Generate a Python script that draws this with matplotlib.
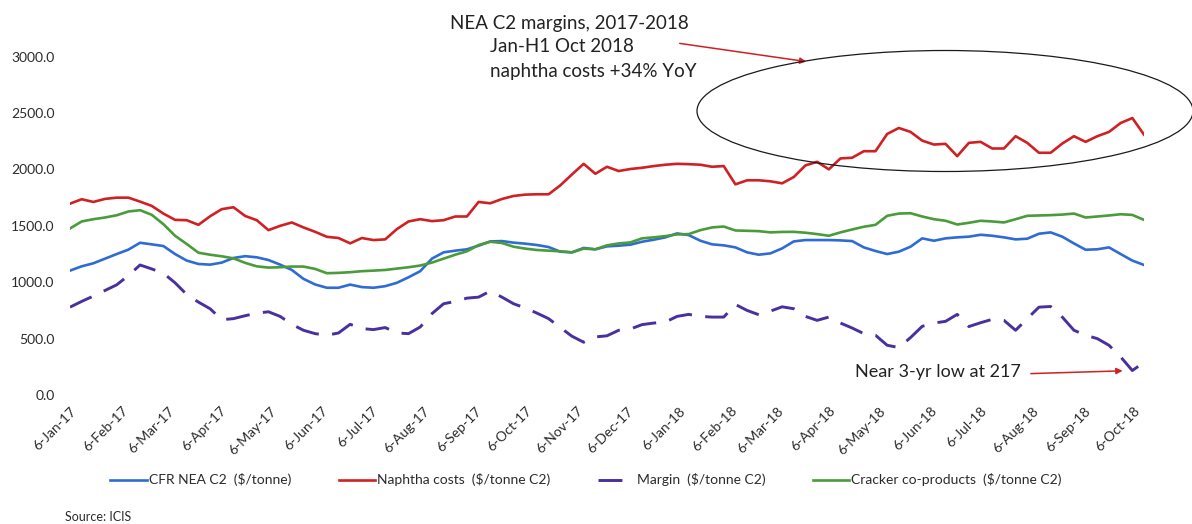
import matplotlib
matplotlib.use("Agg")
import matplotlib.pyplot as plt
from matplotlib.patches import Ellipse, FancyArrowPatch
from matplotlib.ticker import FormatStrFormatter
import pandas as pd

plt.rcParams['font.family'] = ['Lato', 'DejaVu Sans']

# Weekly (Friday) assessments, 6 Jan 2017 - 12 Oct 2018
week_dates = pd.date_range('2017-01-06', '2018-10-12', freq='7D')

cfr_nea_c2 = [
    1103, 1141, 1168, 1209, 1250, 1289, 1350, 1336, 1321, 1250, 1192, 1162, 1156, 1174, 1215, 1231,
    1221, 1197, 1156, 1109, 1030, 980, 951, 951, 979, 957, 951, 965, 995, 1044, 1098,
    1209, 1265, 1280, 1292, 1324, 1362, 1365, 1351, 1342, 1330, 1312, 1271, 1265, 1304, 1292, 1318,
    1324, 1333, 1359, 1377, 1398, 1433, 1418, 1368, 1336, 1327, 1309, 1265, 1244, 1256, 1300,
    1362, 1374, 1374, 1374, 1371, 1365, 1309, 1277, 1250, 1271, 1315, 1389, 1368, 1389, 1398, 1404,
    1421, 1412, 1398, 1380, 1386, 1430, 1442, 1404, 1344, 1288, 1292, 1309, 1250, 1192, 1153,
]

naphtha_costs = [
    1697, 1736, 1712, 1739, 1750, 1750, 1715, 1677, 1609, 1553, 1550, 1509, 1585, 1648, 1665, 1588,
    1550, 1462, 1500, 1530, 1486, 1447, 1403, 1392, 1345, 1392, 1374, 1380, 1471, 1539, 1559,
    1542, 1550, 1583, 1583, 1712, 1700, 1738, 1765, 1777, 1780, 1780, 1859, 1956, 2050, 1962, 2024,
    1986, 2004, 2015, 2030, 2042, 2050, 2047, 2042, 2024, 2030, 1868, 1904, 1904, 1895, 1877,
    1933, 2036, 2068, 2001, 2098, 2104, 2162, 2162, 2315, 2368, 2333, 2256, 2221, 2227, 2118, 2236,
    2245, 2186, 2186, 2295, 2236, 2148, 2148, 2230, 2295, 2245, 2295, 2333, 2412, 2456, 2309,
]

margin = [
    779, 830, 877, 927, 977, 1059, 1153, 1118, 1080, 995, 891, 824, 765, 668, 677, 703,
    726, 738, 697, 627, 574, 544, 530, 550, 627, 589, 580, 598, 550, 544, 603,
    721, 809, 830, 859, 868, 921, 868, 809, 772, 726, 677, 598, 521, 468, 515, 525,
    574, 585, 624, 638, 647, 697, 715, 697, 691, 691, 803, 750, 712, 744, 782,
    765, 697, 662, 691, 638, 594, 544, 530, 441, 421, 509, 609, 638, 653, 715, 607,
    641, 671, 662, 574, 677, 779, 785, 691, 574, 530, 500, 441, 338, 217, 290,
]

cracker_coproducts = [
    1477, 1539, 1559, 1574, 1594, 1627, 1639, 1598, 1515, 1412, 1339, 1262, 1244, 1230, 1212, 1172,
    1141, 1130, 1133, 1139, 1139, 1118, 1080, 1083, 1089, 1098, 1103, 1109, 1121, 1133, 1148,
    1174, 1209, 1244, 1274, 1330, 1359, 1348, 1315, 1298, 1286, 1280, 1274, 1265, 1298, 1292, 1327,
    1344, 1353, 1389, 1398, 1409, 1424, 1427, 1462, 1486, 1494, 1459, 1456, 1453, 1442, 1446,
    1447, 1439, 1427, 1412, 1442, 1468, 1492, 1509, 1589, 1609, 1612, 1583, 1559, 1545, 1512, 1527,
    1545, 1539, 1530, 1559, 1589, 1592, 1595, 1600, 1609, 1574, 1583, 1592, 1603, 1597, 1553,
]

series_labels = [
    'CFR NEA C2  ($/tonne)',
    'Naphtha costs  ($/tonne C2)',
    'Margin  ($/tonne C2)',
    'Cracker co-products  ($/tonne C2)',
]

tick_labels = [
    '6-Jan-17', '6-Feb-17', '6-Mar-17', '6-Apr-17', '6-May-17', '6-Jun-17',
    '6-Jul-17', '6-Aug-17', '6-Sep-17', '6-Oct-17', '6-Nov-17', '6-Dec-17',
    '6-Jan-18', '6-Feb-18', '6-Mar-18', '6-Apr-18', '6-May-18', '6-Jun-18',
    '6-Jul-18', '6-Aug-18', '6-Sep-18', '6-Oct-18',
]
tick_dates = pd.to_datetime(tick_labels, format='%d-%b-%y')
y_ticks = [0, 500, 1000, 1500, 2000, 2500, 3000]

W, H = 1192, 524


def fpx(x, y):
    """Pixel position (from top-left) to figure fraction."""
    return x / W, 1 - y / H


fig = plt.figure(figsize=(W / 100, H / 100), dpi=100)
fig.patch.set_facecolor('white')
ax = fig.add_axes([70 / W, 1 - 395 / H, 1074 / W, (395 - 56.7) / H])

blue, red, purple, green = '#2f6bd4', '#cf2124', '#4a2f9e', '#4a9b3a'
lw = 1.9

l_cfr, = ax.plot(week_dates, cfr_nea_c2, color=blue, lw=lw, label=series_labels[0])
l_nap, = ax.plot(week_dates, naphtha_costs, color=red, lw=lw, label=series_labels[1])
l_mar, = ax.plot(week_dates, margin, color=purple, lw=lw + 0.2, label=series_labels[2])
l_mar.set_dashes([8.2, 4.6])
l_crk, = ax.plot(week_dates, cracker_coproducts, color=green, lw=lw, label=series_labels[3])

ax.set_xlim(week_dates[0], week_dates[-1])
ax.set_ylim(0, 3000)
ax.set_yticks(y_ticks)
ax.yaxis.set_major_formatter(FormatStrFormatter('%.1f'))
ax.set_xticks(tick_dates)
ax.set_xticklabels(tick_labels, rotation=45, ha='right', va='top', rotation_mode='anchor')
ax.tick_params(axis='both', length=0, labelsize=10, labelcolor='#2b2b2b')
ax.tick_params(axis='y', pad=11)
ax.tick_params(axis='x', pad=7)
for s in ax.spines.values():
    s.set_visible(False)

fig.legend(handles=[l_cfr, l_nap, l_mar, l_crk], loc='center',
           bbox_to_anchor=fpx(586, 480), ncol=4, frameon=False,
           fontsize=10, handlelength=2.65, handletextpad=0.15, columnspacing=3.4,
           labelcolor='#2b2b2b')

# Headline note with arrow to the highlighted 2018 naphtha run-up
fig.text(*fpx(450, 24), 'NEA C2 margins, 2017-2018', fontsize=13.5, color='#222222',
         va='center', ha='left')
fig.text(*fpx(490, 47), 'Jan-H1 Oct 2018', fontsize=13.5, color='#222222',
         va='center', ha='left')
fig.text(*fpx(490, 71), 'naphtha costs +34% YoY', fontsize=13.5, color='#222222',
         va='center', ha='left')
fig.add_artist(FancyArrowPatch(fpx(677, 43), fpx(809, 62), transform=fig.transFigure,
                               arrowstyle='-|>', mutation_scale=9, color=red, lw=1.1))
fig.add_artist(Ellipse(fpx(945, 111), 496 / W, 121 / H, transform=fig.transFigure,
                       fill=False, edgecolor='#1a1a1a', lw=0.9))

# Margin low callout
ax.annotate('Near 3-yr low at 217', xy=(week_dates[91], margin[91]),
            xytext=fpx(855, 372), textcoords='figure fraction',
            fontsize=13, color='#222222', va='center', ha='left',
            arrowprops=dict(arrowstyle='-|>', color=red, lw=1.1, mutation_scale=9,
                            shrinkA=0, shrinkB=7, relpos=(1.06, 0.4)))

fig.text(*fpx(65, 517), 'Source: ICIS', fontsize=9, color='#2b2b2b', va='center', ha='left')

fig.savefig('out.png', dpi=100, facecolor='white')
